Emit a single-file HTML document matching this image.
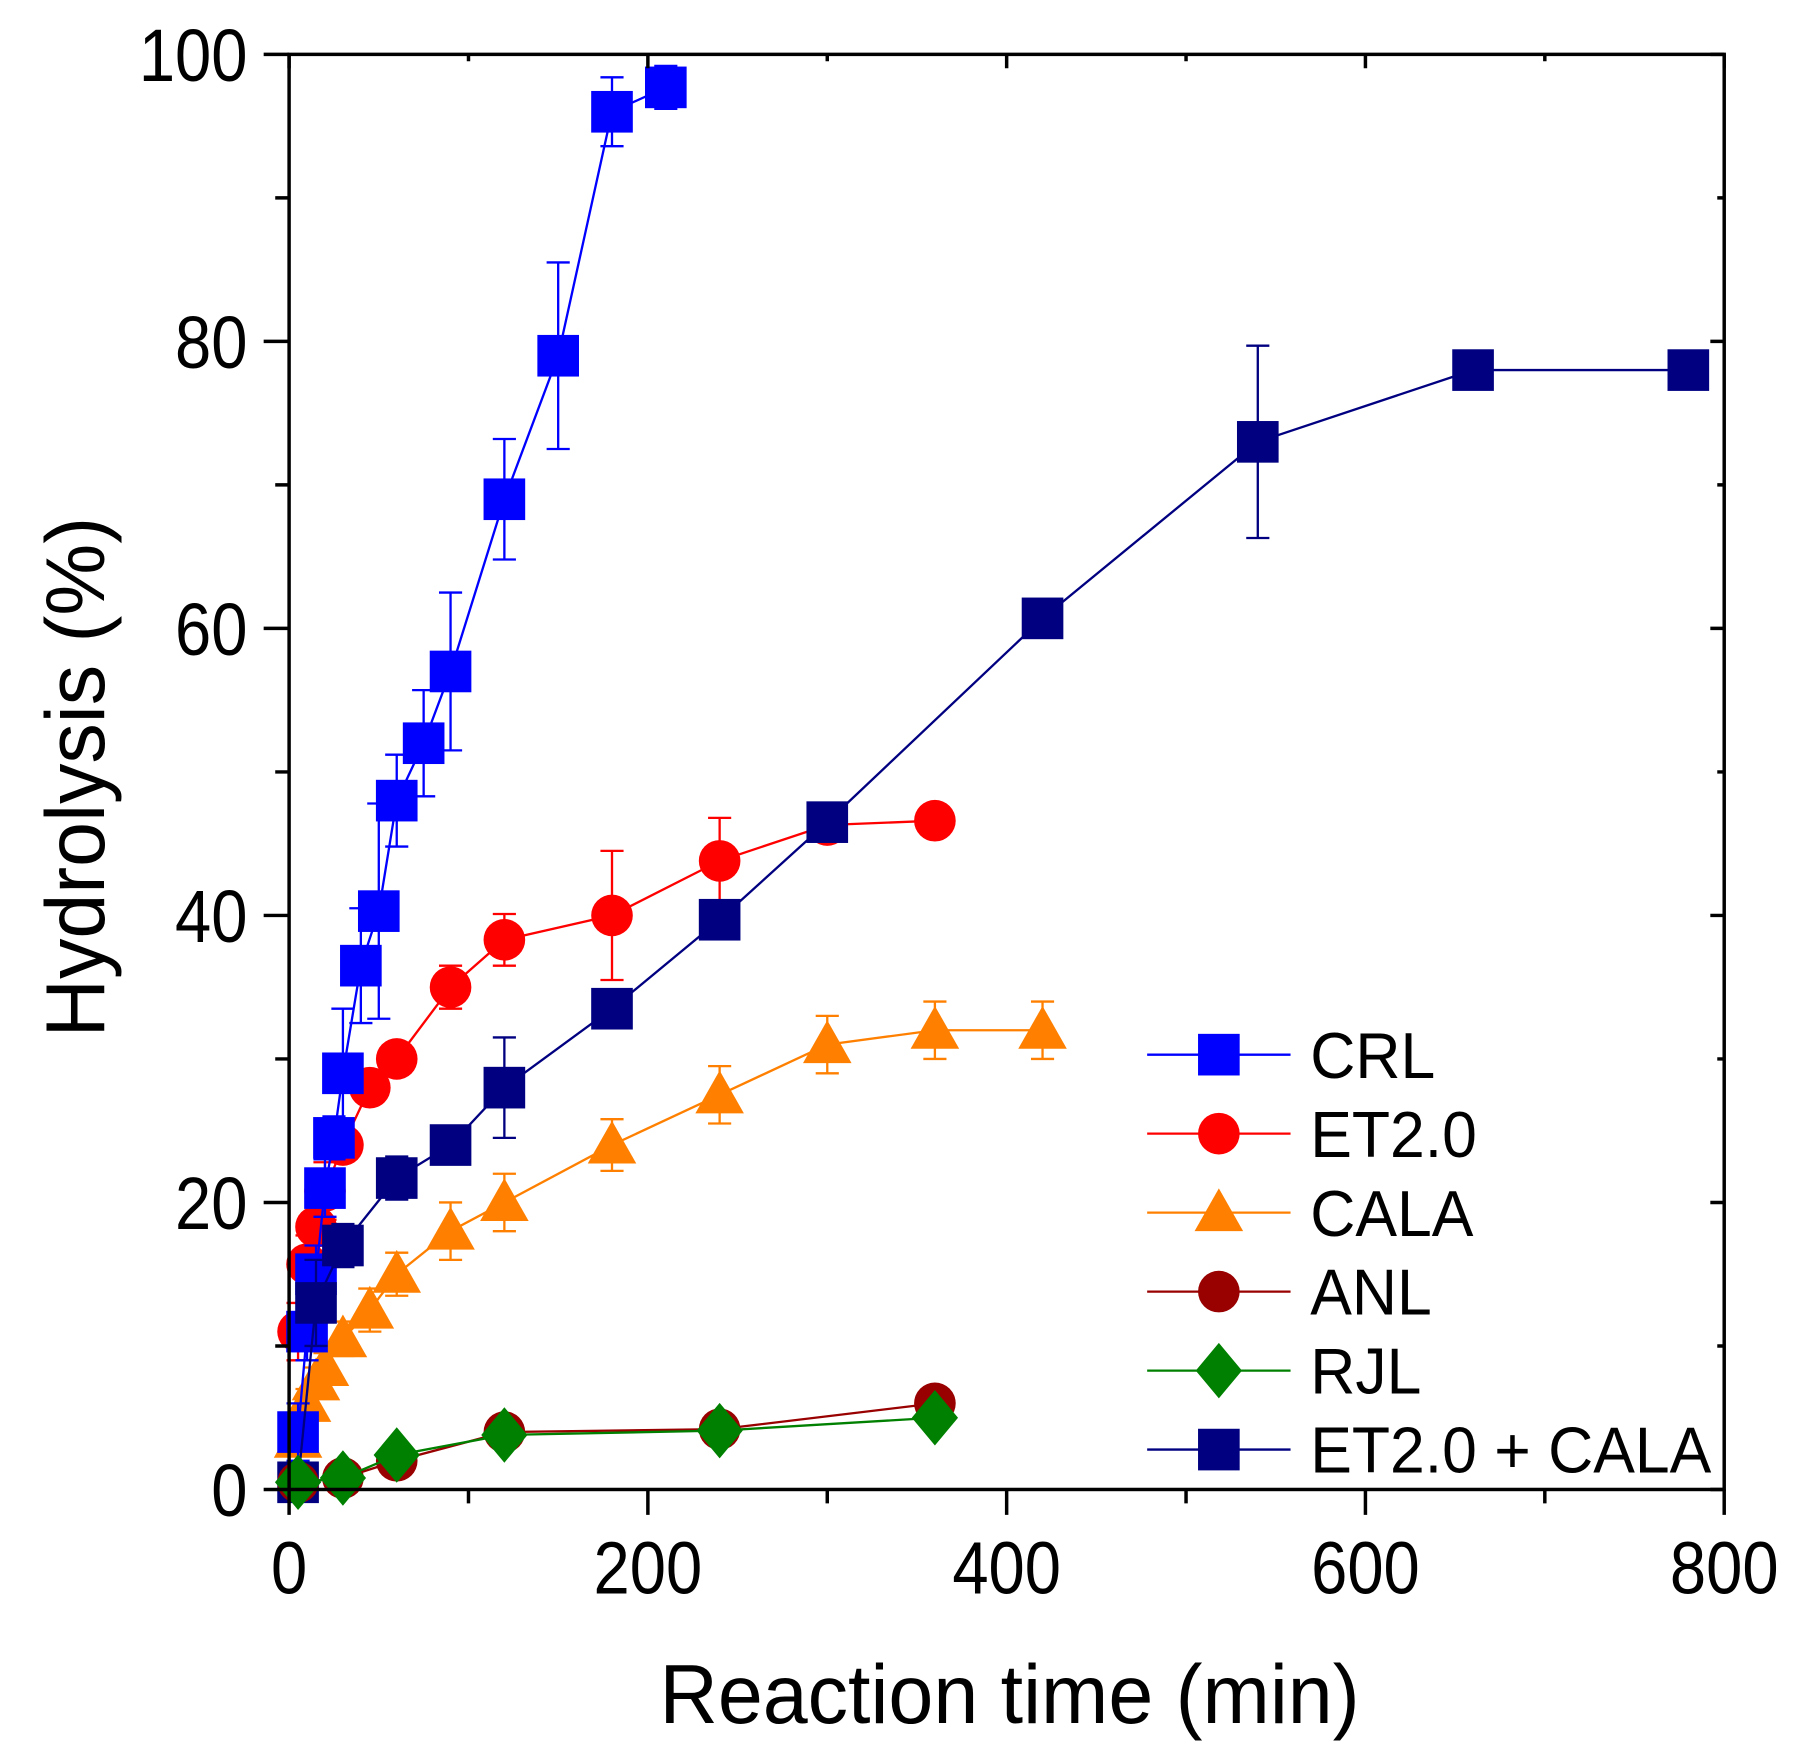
<!DOCTYPE html>
<html><head><meta charset="utf-8"><style>
html,body{margin:0;padding:0;background:#fff;width:1804px;height:1752px;overflow:hidden}
svg text{font-family:"Liberation Sans",sans-serif;fill:#000}
</style></head><body>
<svg id="s" width="1804" height="1752" viewBox="0 0 1560 1515" xmlns="http://www.w3.org/2000/svg"></svg>
<script>
const s=document.getElementById('s');
const X0=250,X1=1491,Y0=1288,Y1=47;
const X=v=>X0+v*(X1-X0)/800, Y=v=>Y0-v*(Y0-Y1)/100;
let h='';
function T(x,y,size,anchor,str,sx){sx=sx||0.88;return `<text transform="translate(${x},${y}) scale(${sx},1)" font-size="${size}" text-anchor="${anchor}">${str}</text>`;}
const S=[
 {c:'#ff8000',m:'tri',d:[[5,3.5,1],[10,6,1],[15,7.5,1],[20,8.5,1],[30,10.5,1.2],[45,12.5,1.5],[60,15,1.5],[90,18,2],[120,20,2],[180,24,1.8],[240,27.5,2],[300,31,2],[360,32,2],[420,32,2]]},
 {c:'#ff0000',m:'circ',d:[[5,11,2],[10,15.7,2],[15,18.3,2],[20,20.8,2],[30,24,1],[45,28,1],[60,30,1],[90,35,1.5],[120,38.3,1.8],[180,40,4.5],[240,43.8,3],[300,46.3,0.5],[360,46.6,0.3]]},
 {c:'#0000ff',m:'sq',d:[[5,4,2],[10,11,2],[15,15,2],[20,21,2],[25,24.5,1.5],[30,29,4.5],[40,36.5,4],[50,40.3,7.5],[60,48,3.2],[75,52,3.7],[90,57,5.5],[120,69,4.2],[150,79,6.5],[180,96,2.4],[210,97.7,1.5]]},
 {c:'#000080',m:'sq',d:[[5,0.5,0.3],[15,13,3],[30,17,1.5],[60,21.7,1.5],[90,24,0.5],[120,28,3.5],[180,33.5,0.5],[240,39.7,0.5],[300,46.5,0.5],[420,60.7,0.3],[540,73,6.7],[660,78,0.3],[780,78,0.3]]},
 {c:'#990000',m:'circ',d:[[5,0.5,0],[30,0.8,0],[60,2,0],[120,4,0],[240,4.2,0],[360,6,0]]},
 {c:'#008000',m:'dia',d:[[5,0.5,0],[30,0.8,0],[60,2.4,0],[120,3.8,0],[240,4.1,0],[360,5,0]]}
];
function mk(m,x,y,c){
 if(m=='sq')return `<rect x="${x-18}" y="${y-18}" width="36" height="36" fill="${c}"/>`;
 if(m=='circ')return `<circle cx="${x}" cy="${y}" r="18" fill="${c}"/>`;
 if(m=='tri')return `<polygon points="${x},${y-21} ${x-21},${y+16} ${x+21},${y+16}" fill="${c}"/>`;
 if(m=='dia')return `<polygon points="${x},${y-24} ${x+20},${y} ${x},${y+24} ${x-20},${y}" fill="${c}"/>`;
}
for(const se of S){
 let pts=se.d.map(p=>X(p[0])+','+Y(p[1])).join(' ');
 h+=`<polyline points="${pts}" fill="none" stroke="${se.c}" stroke-width="2"/>`;
 for(const p of se.d){ if(p[2]>0.4){const x=X(p[0]);h+=`<path d="M${x},${Y(p[1]-p[2])}V${Y(p[1]+p[2])}M${x-10},${Y(p[1]-p[2])}h20M${x-10},${Y(p[1]+p[2])}h20" stroke="${se.c}" stroke-width="2" fill="none"/>`;}}
 for(const p of se.d)h+=mk(se.m,X(p[0]),Y(p[1]),se.c);
}
h+=`<rect x="${X0}" y="${Y1}" width="${X1-X0}" height="${Y0-Y1}" fill="none" stroke="#000" stroke-width="3"/>`;
for(let v=0;v<=100;v+=10){const y=Y(v);const maj=v%20==0;h+=`<path d="M${X0},${y}h${maj?-22:-12}M${X1},${y}h${maj?-12:-6}" stroke="#000" stroke-width="3"/>`;
 if(maj)h+=T(214,y+23,64,'end',v);}
for(let v=0;v<=800;v+=100){const x=X(v);const maj=v%200==0;h+=`<path d="M${x},${Y0}v${maj?22:12}M${x},${Y1}v${maj?12:6}" stroke="#000" stroke-width="3"/>`;
 if(maj)h+=T(x,1378,64,'middle',v);}
h+=T(873,1490,72,'middle','Reaction time (min)',0.97);
h+=`<text transform="translate(90,672) rotate(-90) scale(0.97,1)" font-size="72" text-anchor="middle">Hydrolysis (%)</text>`;
const L=[['CRL','#0000ff','sq'],['ET2.0','#ff0000','circ'],['CALA','#ff8000','tri'],['ANL','#990000','circ'],['RJL','#008000','dia'],['ET2.0 + CALA','#000080','sq']];
L.forEach((l,i)=>{const y=912+i*68.3;h+=`<line x1="992" y1="${y}" x2="1116" y2="${y}" stroke="${l[1]}" stroke-width="2"/>`+mk(l[2],1054,y,l[1])+T(1133,y+20,56,'start',l[0],0.965);});
s.innerHTML=h;
</script>
</body></html>
